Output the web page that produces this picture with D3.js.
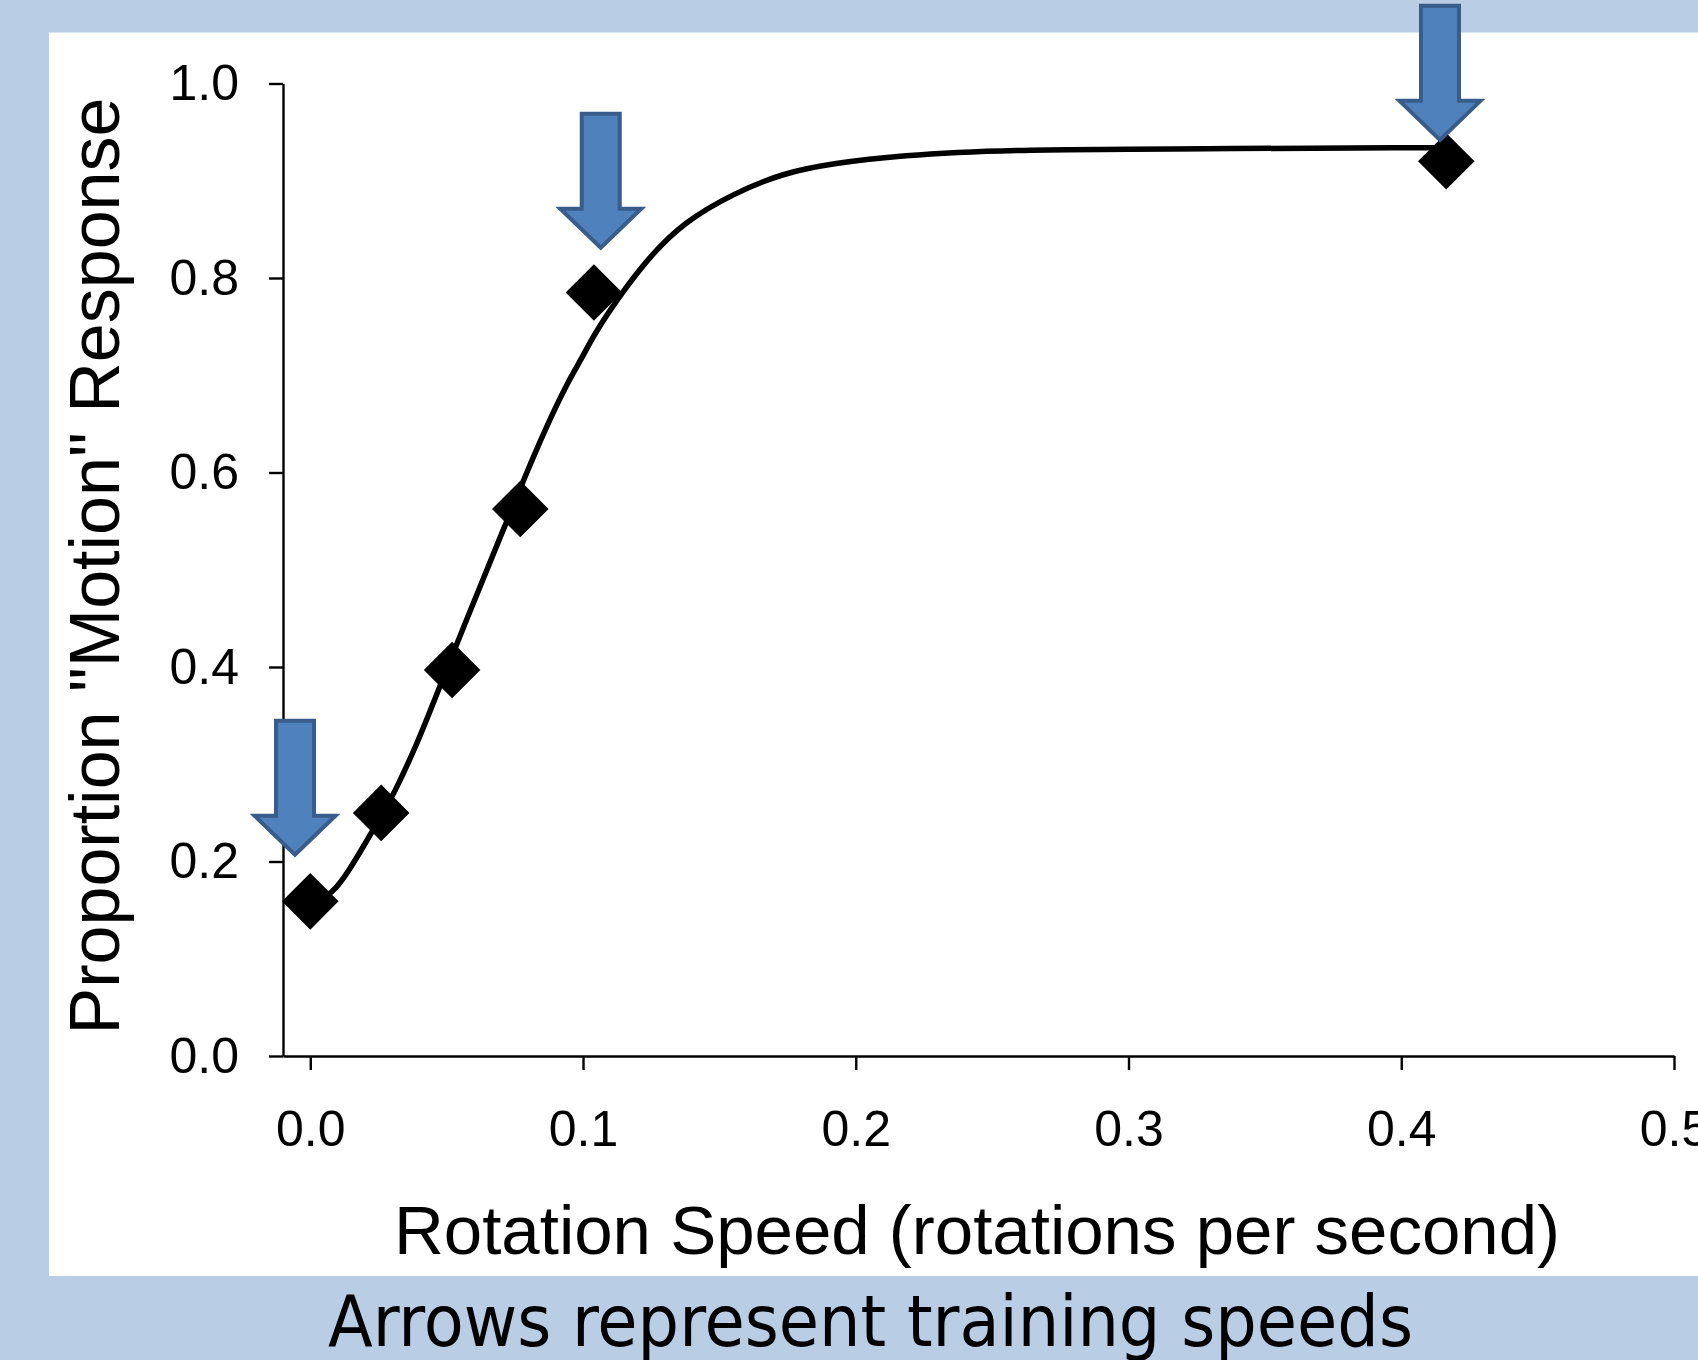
<!DOCTYPE html>
<html>
<head>
<meta charset="utf-8">
<script src="https://cdn.jsdelivr.net/npm/d3@7"></script>
<style>
  body { margin: 0; background: #b9cde5; }
  svg { display: block; }
</style>
</head>
<body>
<div class="chart"></div>
<script>
// observed points
const speeds = [0, 0.026, 0.052, 0.077, 0.104, 0.4165];
const proportions = [0.159, 0.25, 0.397, 0.5625, 0.785, 0.92];

// fitted curve
const fitX = [0, 0.0084, 0.0136, 0.0209, 0.0264, 0.0304, 0.0392, 0.0465, 0.0539, 0.0623, 0.0697,
  0.0759, 0.0807, 0.0869, 0.0942, 0.1001, 0.1038, 0.1137, 0.1247, 0.1368, 0.1551, 0.1734,
  0.1918, 0.2164, 0.253, 0.3263, 0.412];
const fitY = [0.153, 0.168, 0.188, 0.222, 0.249, 0.268, 0.321, 0.373, 0.425, 0.483, 0.534,
  0.576, 0.609, 0.649, 0.692, 0.72, 0.741, 0.783, 0.823, 0.857, 0.887, 0.908,
  0.918, 0.926, 0.932, 0.933, 0.934];

// training speed arrows (tip positions)
const arrowX = [-0.0056, 0.1065, 0.4142];
const arrowTipY = [0.205, 0.829, 0.940];

const xTicks = [0, 0.1, 0.2, 0.3, 0.4, 0.5];
const yTicks = [0, 0.2, 0.4, 0.6, 0.8, 1.0];

const W = 1698, H = 1360;
const plot = { left: 283, right: 1674, top: 83.5, bottom: 1056 };

const svg = d3.select(".chart")
  .append("svg")
  .attr("width", W)
  .attr("height", H);

svg.append("rect")
  .attr("x", 0).attr("y", 0)
  .attr("width", W).attr("height", H)
  .attr("fill", "#b9cde5");

svg.append("rect")
  .attr("x", 49).attr("y", 32.5)
  .attr("width", W - 49).attr("height", 1276 - 32.5)
  .attr("fill", "#ffffff");

const xScale = d3.scaleLinear().domain([-0.01, 0.5]).range([plot.left, plot.right]);
const yScale = d3.scaleLinear().domain([0, 1]).range([plot.bottom, plot.top]);

const xAxis = d3.axisBottom(xScale)
  .tickValues(xTicks)
  .tickFormat(d3.format(".1f"))
  .tickSizeInner(14)
  .tickSizeOuter(0)
  .tickPadding(40);

const yAxis = d3.axisLeft(yScale)
  .tickValues(yTicks)
  .tickFormat(d3.format(".1f"))
  .tickSizeInner(14)
  .tickSizeOuter(0)
  .tickPadding(30);

svg.append("g")
  .attr("class", "axis x-axis")
  .attr("transform", `translate(0,${plot.bottom})`)
  .call(xAxis);

svg.append("g")
  .attr("class", "axis y-axis")
  .attr("transform", `translate(${plot.left},0)`)
  .call(yAxis);

svg.selectAll(".axis path, .axis line")
  .attr("stroke", "#000")
  .attr("stroke-width", 2.4);

svg.selectAll(".axis text")
  .attr("fill", "#000")
  .attr("font-family", "'Liberation Sans', Arial, sans-serif")
  .attr("font-size", "50px");

// axis titles
svg.append("text")
  .attr("x", 977)
  .attr("y", 1254)
  .attr("text-anchor", "middle")
  .attr("font-family", "'Liberation Sans', Arial, sans-serif")
  .attr("font-size", "69px")
  .attr("fill", "#000")
  .text("Rotation Speed (rotations per second)");

svg.append("text")
  .attr("transform", "translate(119,566) rotate(-90)")
  .attr("text-anchor", "middle")
  .attr("font-family", "'Liberation Sans', Arial, sans-serif")
  .attr("font-size", "70px")
  .attr("fill", "#000")
  .text("Proportion \"Motion\" Response");

// fitted curve
const line = d3.line()
  .x(d => xScale(d[0]))
  .y(d => yScale(d[1]))
  .curve(d3.curveBasis);

svg.append("path")
  .datum(d3.zip(fitX, fitY))
  .attr("fill", "none")
  .attr("stroke", "#000")
  .attr("stroke-width", 5.5)
  .attr("d", line);

// data points (diamonds)
const diamond = d3.symbol().type(d3.symbolSquare).size(1600);

svg.selectAll(".point")
  .data(d3.zip(speeds, proportions))
  .enter()
  .append("path")
  .attr("class", "point")
  .attr("d", diamond)
  .attr("fill", "#000")
  .attr("transform", d => `translate(${xScale(d[0])},${yScale(d[1])}) rotate(45)`);

// arrows
const len = 134, shaftW = 38, headW = 81, headH = 39;
function arrowPath() {
  return [
    [-shaftW / 2, -len], [shaftW / 2, -len], [shaftW / 2, -headH],
    [headW / 2, -headH], [0, 0], [-headW / 2, -headH], [-shaftW / 2, -headH]
  ];
}

svg.selectAll(".arrow")
  .data(d3.zip(arrowX, arrowTipY))
  .enter()
  .append("path")
  .attr("class", "arrow")
  .attr("d", d => "M" + arrowPath().join("L") + "Z")
  .attr("fill", "#4f81bd")
  .attr("stroke", "#385d8a")
  .attr("stroke-width", 4)
  .attr("stroke-linejoin", "miter")
  .attr("transform", d => `translate(${xScale(d[0])},${yScale(d[1]) - 2})`);

// caption
svg.append("text")
  .attr("x", 328)
  .attr("y", 1346)
  .attr("textLength", 1085)
  .attr("lengthAdjust", "spacingAndGlyphs")
  .attr("font-family", "'DejaVu Sans Condensed', 'DejaVu Sans', sans-serif")
  .attr("font-size", "72px")
  .attr("fill", "#000")
  .text("Arrows represent training speeds");
</script>
</body>
</html>
